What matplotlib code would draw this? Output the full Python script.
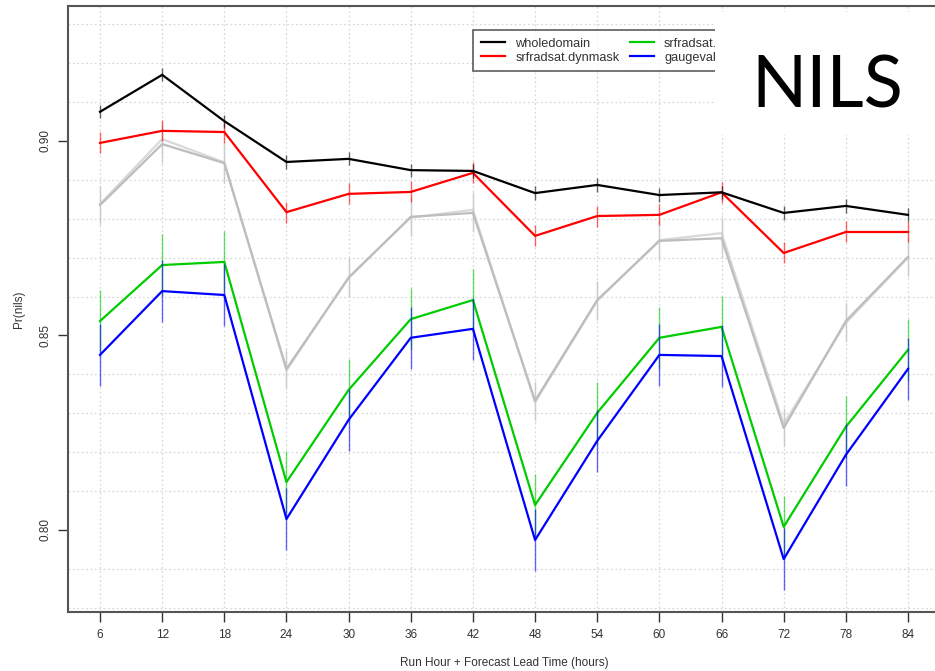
import numpy as np
import matplotlib.pyplot as plt
from matplotlib.patches import Rectangle

plt.rcParams['font.family'] = ['Liberation Sans', 'DejaVu Sans']

# Часы прогноза
hours = [6, 12, 18, 24, 30, 36, 42, 48, 54, 60, 66, 72, 78, 84]

# Средние значения Pr(nils) по каждому варианту маски
wholedomain = [0.9075, 0.9170, 0.9051, 0.8946, 0.8954, 0.8925, 0.8923,
               0.8866, 0.8887, 0.8861, 0.8868, 0.8815, 0.8833, 0.8810]
dynmask = [0.8995, 0.9026, 0.9023, 0.8817, 0.8864, 0.8869, 0.8918,
           0.8756, 0.8807, 0.8810, 0.8868, 0.8712, 0.8766, 0.8766]
srfradsat_a = [0.8537, 0.8681, 0.8689, 0.8123, 0.8360, 0.8542, 0.8591,
               0.8064, 0.8301, 0.8494, 0.8522, 0.8008, 0.8265, 0.8463]
gaugevalues = [0.8450, 0.8614, 0.8604, 0.8028, 0.8283, 0.8494, 0.8517,
               0.7974, 0.8229, 0.8450, 0.8447, 0.7925, 0.8193, 0.8414]
gray_dark = [0.8835, 0.8992, 0.8943, 0.8414, 0.8648, 0.8805, 0.8815,
             0.8332, 0.8591, 0.8743, 0.8750, 0.8262, 0.8537, 0.8702]
gray_light = [0.8838, 0.9005, 0.8945, 0.8410, 0.8650, 0.8803, 0.8823,
              0.8328, 0.8589, 0.8745, 0.8763, 0.8272, 0.8532, 0.8700]

# Полуширина доверительных интервалов
err_whole = 0.0017
err_dyn = 0.0027
err_a = 0.0080
err_gauge = 0.0080
err_gray = 0.0050

legend_names = ["wholedomain", "srfradsat.dynmask", "srfradsat.allmask", "gaugevalues"]

fig = plt.figure(figsize=(9.35, 6.71), dpi=100)
ax = fig.add_axes([68 / 935, 59 / 671, 872 / 935, 606 / 671])

series = [
    (gray_light, err_gray, "#d9d9d9", None),
    (gray_dark, err_gray, "#bdbdbd", None),
    (srfradsat_a, err_a, "#00cc00", legend_names[2]),
    (gaugevalues, err_gauge, "#0000ff", legend_names[3]),
    (dynmask, err_dyn, "#ff0000", legend_names[1]),
    (wholedomain, err_whole, "#000000", legend_names[0]),
]
handles = {}
for vals, err, col, name in series:
    ax.errorbar(hours, vals, yerr=err, fmt="none", ecolor=col, elinewidth=1.0,
                capsize=0, alpha=0.6)
    ln, = ax.plot(hours, vals, color=col, lw=1.6)
    if name:
        handles[name] = ln

ax.set_xlim(2.91, 87.09)
ax.set_ylim(0.7789, 0.9347)
ax.set_xticks(hours)
ax.set_yticks([0.80, 0.85, 0.90])
ax.set_yticklabels(["0.80", "0.85", "0.90"], rotation=90, va="center")
ax.set_yticks(np.arange(0.78, 0.935, 0.01), minor=True)
ax.tick_params(axis="y", which="minor", length=0)
ax.tick_params(axis="both", which="major", length=7, width=1, color="#333333",
               labelsize=8.5, labelcolor="#333333", pad=5)

ax.grid(True, which="minor", axis="y", color="#d8d8d8", ls=(0, (1.5, 2)), lw=0.9)
ax.grid(True, which="major", axis="x", color="#d8d8d8", ls=(0, (1.5, 2)), lw=0.9)
ax.set_axisbelow(True)

for s in ax.spines.values():
    s.set_color("#555555")
    s.set_linewidth(1.5)

ax.set_xlabel("Run Hour + Forecast Lead Time (hours)", fontsize=8.5, color="#333333",
              labelpad=12)
ax.set_ylabel("Pr(nils)", fontsize=8.5, color="#333333", labelpad=10)

leg = ax.legend([handles[n] for n in legend_names], legend_names, ncol=2,
                loc="upper left", bbox_to_anchor=(473 / 935, 1 - 30 / 671),
                bbox_transform=fig.transFigure, borderaxespad=0, fontsize=9.2,
                frameon=True, fancybox=False, handlelength=1.9, handletextpad=0.8,
                columnspacing=0.8, borderpad=0.6, labelspacing=0.15)
leg.get_frame().set_edgecolor("#333333")
leg.get_frame().set_linewidth(1.2)
for t in leg.get_texts():
    t.set_color("#333333")

# Белая плашка с подписью
fig.patches.append(Rectangle((715 / 935, 1 - 135 / 671), 220 / 935, 123 / 671,
                             transform=fig.transFigure, facecolor="white",
                             edgecolor="none", zorder=10))
fig.text(827 / 935, 1 - 107 / 671, "NILS", fontsize=52, family="Lato",
         ha="center", va="baseline", zorder=11)

fig.savefig("out.png", dpi=100)
